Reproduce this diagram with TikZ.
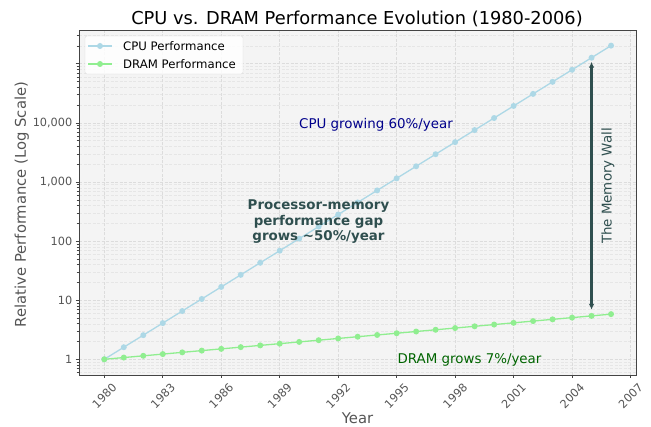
\documentclass[tikz,border=0pt]{standalone}
\usepackage{fontspec}
\setmainfont{DejaVu Sans}
\usetikzlibrary{arrows.meta}

\definecolor{panel}{HTML}{F4F4F4}
\definecolor{majgrid}{HTML}{DCDCDC}
\definecolor{mingrid}{HTML}{E6E6E6}
\definecolor{spine}{HTML}{444444}
\definecolor{ticktext}{HTML}{555555}
\definecolor{cpucol}{HTML}{ADD8E6}
\definecolor{dramcol}{HTML}{90EE90}
\definecolor{gapcol}{HTML}{2F4F4F}
\definecolor{cpunote}{HTML}{00008B}
\definecolor{dramnote}{HTML}{006400}

% axis mapping (1 unit = 1pt): x = 104.3 + 19.49*(year-1980), y = 67.7 + 59.1*log10(value)
\newcommand{\yrx}[1]{104.3+19.49*(#1-1980)}
\newcommand{\decy}[1]{67.7+59.1*(#1)}

\tikzset{
  majorgrid/.style={majgrid, line width=0.6pt, dash pattern=on 3pt off 1.5pt},
  minorgrid/.style={mingrid, line width=0.4pt, dash pattern=on 3pt off 1.5pt},
  tickmark/.style={spine, line width=0.7pt},
  ticklabel/.style={text=ticktext, font=\fontsize{11.3}{13}\selectfont, inner sep=0pt},
  axislabel/.style={text=ticktext, font=\fontsize{14.8}{17}\selectfont, inner sep=0pt},
  notetext/.style={inner sep=0pt, font=\fontsize{13.4}{15.5}\selectfont},
  legendtext/.style={anchor=west, inner sep=0pt, font=\fontsize{11.7}{14}\selectfont},
  cpuline/.style={cpucol, line width=1.3pt},
  dramline/.style={dramcol, line width=1.3pt},
  cpumark/.style={circle, fill=cpucol, inner sep=0pt, minimum size=6pt},
  drammark/.style={circle, fill=dramcol, inner sep=0pt, minimum size=6pt},
  wallarrow/.style={draw=gapcol, line width=2.2pt,
    {Latex[length=6pt,width=5.5pt]}-{Latex[length=6pt,width=5.5pt]}},
}

\begin{document}
\begin{tikzpicture}[x=1pt,y=1pt]
\useasboundingbox (0,0) rectangle (651,427);

% plot panel
\fill[panel] (79,52) rectangle (636,397);

% minor horizontal grid lines (2..9 within each decade)
\foreach \d in {-1,0,1,2,3,4,5}{
  \foreach \k in {2,...,9}{
    \pgfmathsetmacro{\yy}{67.7+59.1*(\d+log10(\k))}
    \ifdim\yy pt>52pt \ifdim\yy pt<397pt
      \draw[minorgrid] (79,\yy) -- (636,\yy);
      \draw[tickmark, line width=0.5pt] (76.5,\yy) -- (79,\yy);
    \fi\fi
  }
}
% major horizontal grid lines and y tick labels
\foreach \d/\lab in {0/1,1/10,2/100,3/{1,000},4/{10,000}}{
  \draw[majorgrid] (79,{\decy{\d}}) -- (636,{\decy{\d}});
  \draw[tickmark] (75.5,{\decy{\d}}) -- (79,{\decy{\d}});
  \node[ticklabel, anchor=east] (ylab\d) at (72.5,{\decy{\d}}) {\lab};
}
\draw[majorgrid] (79,{\decy{5}}) -- (636,{\decy{5}});
\draw[tickmark] (75.5,{\decy{5}}) -- (79,{\decy{5}});

% vertical grid lines and x tick labels
\foreach \yr in {1980,1983,...,2007}{
  \draw[majorgrid] ({\yrx{\yr}},52) -- ({\yrx{\yr}},397);
  \draw[tickmark] ({\yrx{\yr}},52) -- ({\yrx{\yr}},48.5);
  \node[ticklabel, rotate=45] (xlab\yr) at ({\yrx{\yr}},31) {\yr};
}

% data points: CPU grows 1.6x per year, DRAM 1.07x per year
\foreach \n in {0,...,26}{
  \coordinate (cpu\n) at ({104.3+19.49*\n},{67.7+12.0635*\n});
  \coordinate (dram\n) at ({104.3+19.49*\n},{67.7+1.73659*\n});
}
% series lines
\foreach \n [evaluate=\n as \m using int(\n+1)] in {0,...,25}{
  \draw[cpuline] (cpu\n) -- (cpu\m);
  \draw[dramline] (dram\n) -- (dram\m);
}
% series markers
\foreach \n in {0,...,26}{
  \node[cpumark] (cpuM\n) at (cpu\n) {};
  \node[drammark] (dramM\n) at (dram\n) {};
}

% frame
\draw[spine, line width=0.8pt] (79,52) rectangle (636,397);

% legend
\node[draw=majgrid, fill=white, fill opacity=0.85, rounded corners=2pt,
      minimum width=158pt, minimum height=38pt, inner sep=0pt] (legend) at (164,372) {};
\coordinate (legA1) at (88,381); \coordinate (legA2) at (112,381);
\coordinate (legB1) at (88,363); \coordinate (legB2) at (112,363);
\draw[cpuline] (legA1) -- (legA2);
\node[cpumark] (legAm) at (100,381) {};
\draw[dramline] (legB1) -- (legB2);
\node[drammark] (legBm) at (100,363) {};
\node[legendtext] (legAt) at (123,381) {CPU Performance};
\node[legendtext] (legBt) at (123,363) {DRAM Performance};

% memory wall arrow
\draw[wallarrow, shorten <=4pt, shorten >=6pt] (cpu25) -- (dram25);
\node[notetext, text=gapcol, rotate=90] (wall) at (608,241) {The Memory Wall};

% annotations
\node[notetext, text=cpunote] (cpunoteN) at (376,302) {CPU growing 60\%/year};
\node[notetext, text=dramnote] (dramnoteN) at (469.5,67) {DRAM grows 7\%/year};
\node[notetext, text=gapcol, align=center, font=\bfseries\fontsize{13.4}{15.5}\selectfont] (gap) at (318.5,205)
  {Processor-memory\\performance gap\\grows \textasciitilde50\%/year};

% titles
\node[inner sep=0pt, font=\fontsize{17.8}{20}\selectfont] (title) at (357,408) {CPU vs. DRAM Performance Evolution (1980-2006)};
\node[axislabel] (xtitle) at (357.5,9) {Year};
\node[axislabel, rotate=90] (ytitle) at (21.7,222.5) {Relative Performance (Log Scale)};
\end{tikzpicture}
\end{document}
